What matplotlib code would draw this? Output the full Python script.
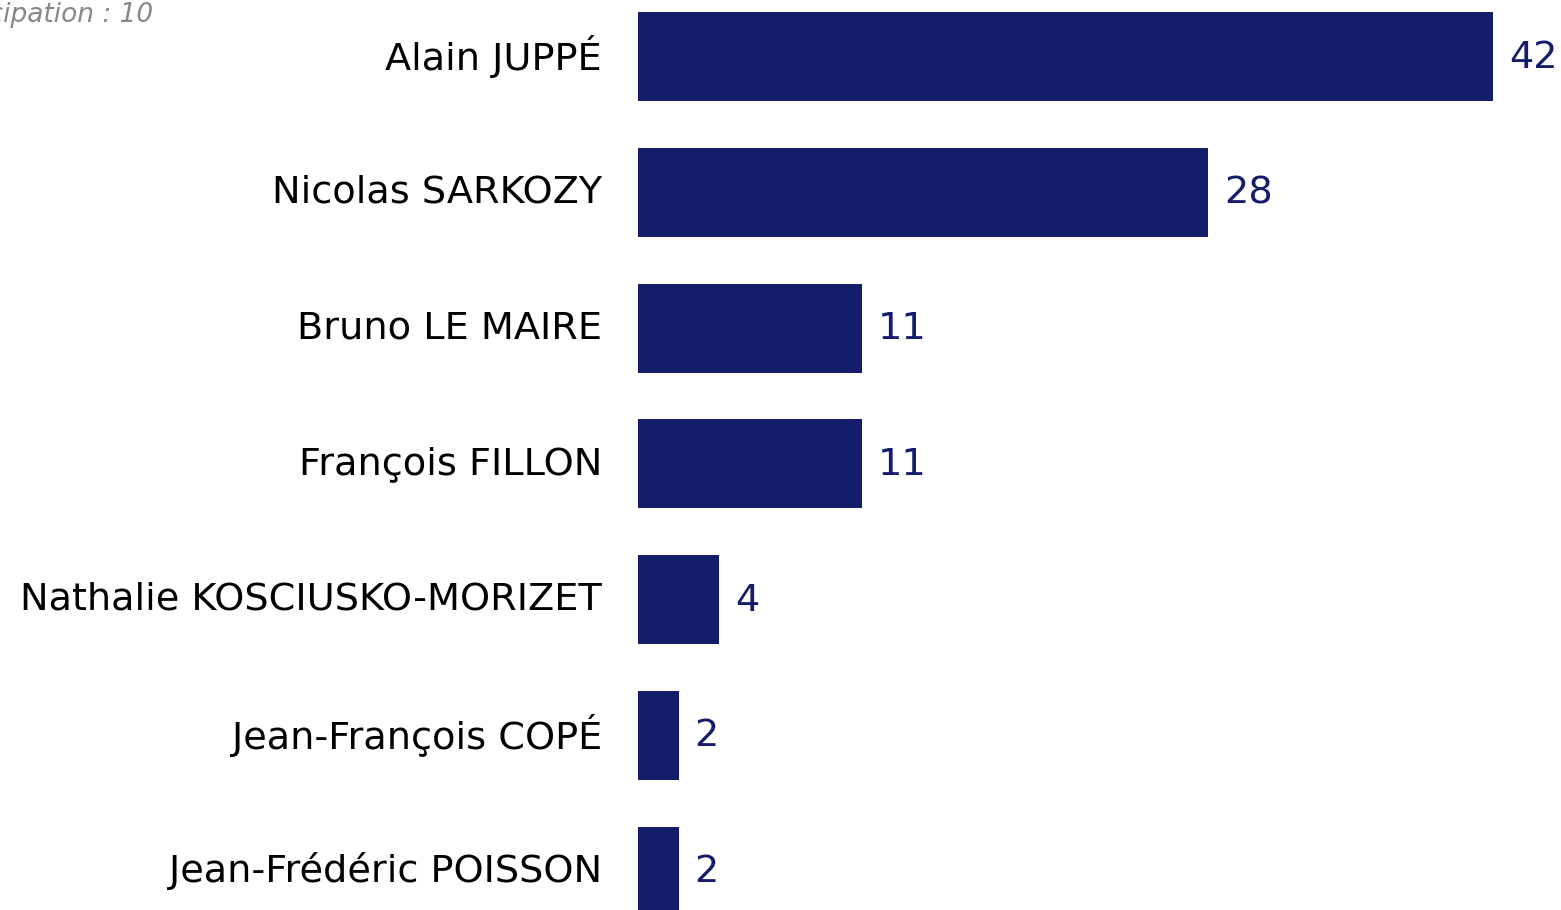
import matplotlib
matplotlib.use("Agg")
import matplotlib.pyplot as plt

# candidates, top to bottom
candidates = [
    "Alain JUPPÉ",
    "Nicolas SARKOZY",
    "Bruno LE MAIRE",
    "François FILLON",
    "Nathalie KOSCIUSKO-MORIZET",
    "Jean-François COPÉ",
    "Jean-Frédéric POISSON",
]
scores = [42, 28, 11, 11, 4, 2, 2]
header_text = "Participation : 10"

navy = "#151c6a"
W, H = 1561, 910

fig = plt.figure(figsize=(W / 100, H / 100), dpi=100)
plt.rcParams["font.family"] = ["DejaVu Sans"]

# axes starts where the bars start, runs to the right edge
x0 = 638
px_per_unit = (1493 - 638) / 42
ax = fig.add_axes([x0 / W, 0, (W - x0) / W, 1])
ax.set_xlim(0, (W - x0) / px_per_unit)

row = 135.8
top_center = 56.5
ax.set_ylim((H - top_center) / row, -top_center / row)

ypos = list(range(len(candidates)))
ax.barh(ypos, scores, height=89 / row, color=navy)

for y, v, name in zip(ypos, scores, candidates):
    ax.annotate(str(v), xy=(v, y), xytext=(16, -1), textcoords="offset pixels",
                va="center", ha="left", fontsize=27.5, color=navy,
                annotation_clip=False)
    ax.annotate(name, xy=(0, y), xytext=(-36, 0), textcoords="offset pixels",
                ha="right", va="center", fontsize=27.5, color="black",
                annotation_clip=False)

ax.axis("off")

fig.text(153 / W, 1 - 15 / H, header_text, ha="right", va="center",
         fontsize=19, style="italic", color="#888888")

fig.savefig("out.png", dpi=100)
